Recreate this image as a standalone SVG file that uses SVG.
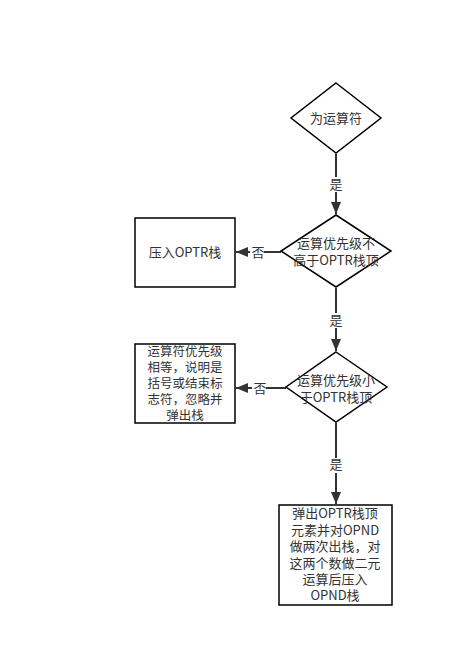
<svg xmlns="http://www.w3.org/2000/svg" width="454" height="665" viewBox="0 0 454 665">
<style>
.s{fill:#fff;stroke:#000;stroke-width:1.5}
.c{stroke:#333;stroke-width:2;fill:none}
text{font-family:"Noto Sans CJK SC","Liberation Sans",sans-serif;font-size:13px;fill:#333;text-anchor:middle}
.t{font-size:12.5px}
.lb{fill:#fff}
</style>
<rect width="454" height="665" fill="#fff"/>
<g id="connectors">
<path class="c" d="M336,154V214"/>
<path d="M331,202L336,214L341,202z" fill="#333"/>
<rect class="lb" x="328" y="177" width="16" height="15"/><text x="336" y="189">是</text>
<path class="c" d="M336,288V351"/>
<path d="M331,339L336,351L341,339z" fill="#333"/>
<rect class="lb" x="328" y="313" width="16" height="15"/><text x="336" y="325">是</text>
<path class="c" d="M336,423V504"/>
<path d="M331,492L336,504L341,492z" fill="#333"/>
<rect class="lb" x="328" y="458" width="16" height="15"/><text x="336" y="469">是</text>
<path class="c" d="M281,252H236"/>
<path d="M248,247L236,252L248,257z" fill="#333"/>
<rect class="lb" x="250" y="245" width="14" height="15"/><text x="258" y="257">否</text>
<path class="c" d="M286,388H236"/>
<path d="M248,383L236,388L248,393z" fill="#333"/>
<rect class="lb" x="252" y="381" width="14" height="15"/><text x="260" y="393">否</text>
</g>
<g id="n1"><path class="s" d="M336,83L381,118L336,153L291,118z"/><text x="336" y="123">为运算符</text></g>
<g id="n2"><path class="s" d="M336,215L391,251L336,287L281,251z"/><text x="336" y="247.5">运算优先级不</text><text x="336" y="265">高于OPTR栈顶</text></g>
<g id="n3"><rect class="s" x="135" y="218" width="100" height="69"/><text x="185" y="257">压入OPTR栈</text></g>
<g id="n4"><path class="s" d="M336,352L387,387L336,422L286,387z"/><text x="336" y="385">运算优先级小</text><text x="336" y="402">于OPTR栈顶</text></g>
<g id="n5"><rect class="s" x="135" y="344" width="100" height="79"/><text class="t" x="185" y="355.5">运算符优先级</text><text class="t" x="185" y="371.5">相等，说明是</text><text class="t" x="185" y="387.5">括号或结束标</text><text class="t" x="185" y="403.5">志符，忽略并</text><text class="t" x="185" y="419.5">弹出栈</text></g>
<g id="n6"><rect class="s" x="279" y="505" width="113" height="100"/><text x="335" y="518">弹出OPTR栈顶</text><text x="335" y="534.5">元素并对OPND</text><text x="335" y="551">做两次出栈，对</text><text x="335" y="567.5">这两个数做二元</text><text x="335" y="584">运算后压入</text><text x="335" y="600">OPND栈</text></g>
</svg>
